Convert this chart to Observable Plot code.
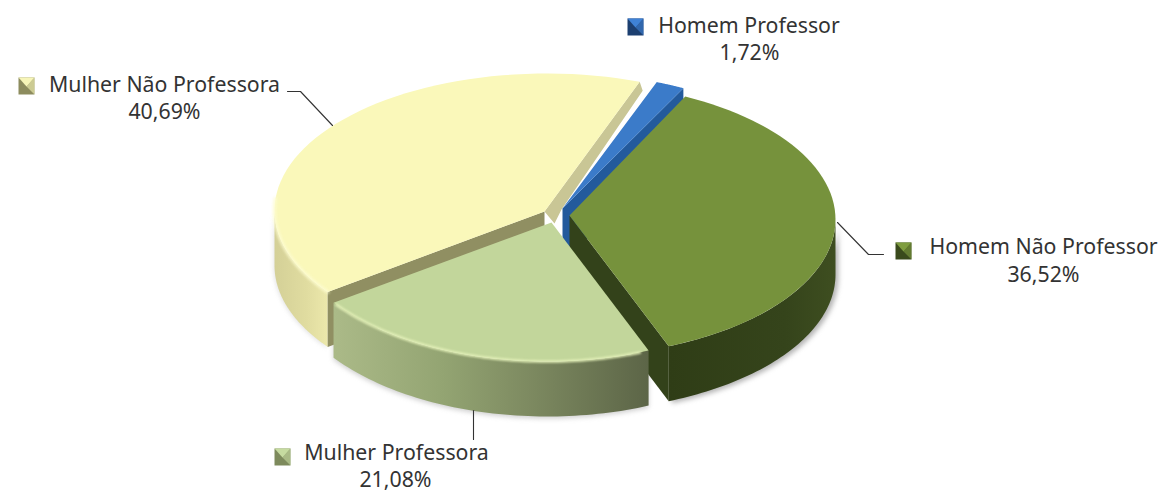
<!DOCTYPE html>
<html>
<head>
<meta charset="utf-8">
<script src="https://cdn.jsdelivr.net/npm/d3@7"></script>
<script src="https://cdn.jsdelivr.net/npm/@observablehq/plot@0.6"></script>
<style>
html,body{margin:0;padding:0;background:#fff}
svg{display:block}
</style>
</head>
<body>
<div id="chart"></div>
<script>
// --- data ---
const categories = ["Homem Professor", "Homem Não Professor", "Mulher Professora", "Mulher Não Professora"];
const values = [1.72, 36.52, 21.08, 40.69];

// --- colours ---
const topColors = ["#3b7bc9", "#76923c", "#c2d69b", "#faf8ba"];
const swatchLight = ["#3f82d6", "#7f9d40", "#c6dba0", "#f7f5b8"];
const swatchDark = ["#1c3f70", "#3a4a1c", "#7d8a5c", "#8d8c5e"];

// --- layout (pixels of the 1164x492 frame) ---
const W = 1164, H = 492, depth = 55, startDeg = 20;
const centers = [[565, 216, 267, 143], [566, 219, 269, 137], [547, 216, 266, 145], [546, 210, 272, 137]];
const apexes = [[562, 208], [569, 215], [551, 222], [544, 211]];
const swatches = [[627, 18], [895, 242], [274, 448], [18, 77]];
const labelX = [[748.5, 749], [1043, 1043], [396, 395], [164, 164]];
const labelY = [[32, 59], [253, 281], [459, 486], [91, 118]];
const leaders = [null, [[837, 222], [868, 254], [883, 254]], [[473, 410], [473, 439]], [[332, 125], [300, 91], [287, 91]]];

// angles from the values
let acc = startDeg;
const spans = values.map(v => { const a = acc; acc += v * 3.6; return [a, acc]; });

function rim(i, a0 = spans[i][0], a1 = spans[i][1]) {
  const [cx, cy, rx, ry] = centers[i];
  return d3.range(0, 61).map(k => {
    const t = (a0 + (a1 - a0) * k / 60) * Math.PI / 180;
    return [cx + rx * Math.sin(t), cy - ry * Math.cos(t)];
  });
}
const down = (p, d = depth) => [p[0], p[1] + d];
const shift = (p, dx, dy) => [p[0] + dx, p[1] + dy];

function face(points, fill, extra = {}) {
  return Plot.line(points, {x: d => d[0], y: d => d[1], fill, stroke: "none", imageFilter: "blur(0.6px)", ...extra});
}
function stroke(points, color, width, extra = {}) {
  return Plot.line(points, {x: d => d[0], y: d => d[1], stroke: color, strokeWidth: width, ...extra});
}

const topFace = i => [apexes[i], ...rim(i), apexes[i]];
const sideFace = (i, a0, a1) => { const r = rim(i, a0, a1); return [...r, ...r.slice().reverse().map(p => down(p))]; };
const cutFace = (a, b) => [a, b, down(b), down(a), a];

const [Y0, Y1] = spans[3], [G0, G1] = spans[1], [L0, L1] = spans[2], [B0, B1] = spans[0];
const yS = rim(3), yStart = yS[yS.length - 1], yEnd = yS[0];
const gS = rim(1), gEnd = gS[gS.length - 1];
const bS = rim(0), bStart = bS[0], bEnd = bS[bS.length - 1];

const marks = [
  // soft shadows under the body
  face(sideFace(1, 90, G1), "#777", {imageFilter: "blur(2.5px)", opacity: 0.55, dx: 3, dy: 2}),
  face(sideFace(2, L0, L1), "#888", {imageFilter: "blur(2.5px)", opacity: 0.4, dx: 0, dy: 2}),
  face(sideFace(3, Y0, 270), "#999", {imageFilter: "blur(2px)", opacity: 0.25, dx: -1, dy: 1}),

  // Mulher Não Professora
  face(sideFace(3, Y0, 270), "url(#sideYellow)"),
  face(cutFace(apexes[3], yEnd), "#908f62"),
  face([apexes[3], yStart, shift(yStart, 3, 9), shift(apexes[3], 17, -2), shift(apexes[3], 10, 12), apexes[3]], "#c9c695"),
  face(topFace(3), topColors[3]),
  stroke(rim(3, Y0, 275), "#fdfcd0", 3, {imageFilter: "blur(1.5px)"}),

  // Homem Professor
  face(cutFace(apexes[0], bEnd), "#235a9c"),
  face(topFace(0), topColors[0]),

  // Homem Não Professor
  face(sideFace(1, 90, G1), "url(#sideGreen)"),
  face(cutFace(apexes[1], gEnd), "#33421a"),
  face(topFace(1), topColors[1]),

  // Mulher Professora
  face(sideFace(2, L0, L1), "url(#sideLight)"),
  face(topFace(2), topColors[2]),
  stroke(rim(2, L0 + 2, L1 - 1), "#e3f0b8", 2.5, {imageFilter: "blur(1.2px)"}),

  // leader lines
  ...leaders.filter(Boolean).map(l => stroke(l, "#333", 1.1)),

  // legend keys
  ...swatches.flatMap(([x, y], i) => [
    face([[x, y], [x + 16, y], [x + 16, y + 17], [x, y + 17], [x, y]], swatchDark[i]),
    face([[x, y], [x + 16, y], [x + 8, y + 9], [x, y]], swatchLight[i]),
    face([[x + 16, y], [x + 16, y + 17], [x + 8, y + 9], [x + 16, y]], swatchLight[i], {opacity: 0.6})
  ]),

  // labels
  Plot.text(categories.map((c, i) => i), {
    x: i => labelX[i][0], y: i => labelY[i][0], text: i => categories[i],
    textAnchor: "middle", lineAnchor: "bottom", fontSize: 21.3, fill: "#333",
    fontFamily: "Noto Sans"
  }),
  Plot.text(categories.map((c, i) => i), {
    x: i => labelX[i][1], y: i => labelY[i][1],
    text: i => values[i].toFixed(2).replace(".", ",") + "%",
    textAnchor: "middle", lineAnchor: "bottom", fontSize: 21.3, fill: "#333",
    fontFamily: "Noto Sans"
  })
];

const svg = Plot.plot({
  width: W, height: H, margin: 0, style: {background: "#fff"},
  x: {domain: [0, W], range: [0, W], axis: null},
  y: {domain: [0, H], range: [0, H], axis: null},
  marks
});

const defs = d3.select(svg).insert("defs", ":first-child");
function gradient(id, stops) {
  const g = defs.append("linearGradient").attr("id", id).attr("x1", 0).attr("x2", 1).attr("y1", 0).attr("y2", 0);
  stops.forEach(([o, c]) => g.append("stop").attr("offset", o).attr("stop-color", c));
}
gradient("sideYellow", [[0, "#d4d097"], [0.6, "#e0dca0"], [1, "#ece8ab"]]);
gradient("sideGreen", [[0, "#2f3d16"], [0.7, "#35441b"], [1, "#3e4e20"]]);
gradient("sideLight", [[0, "#abba88"], [0.35, "#93a472"], [0.6, "#7f8c62"], [1, "#5c6547"]]);

document.getElementById("chart").appendChild(svg);
</script>
</body>
</html>
